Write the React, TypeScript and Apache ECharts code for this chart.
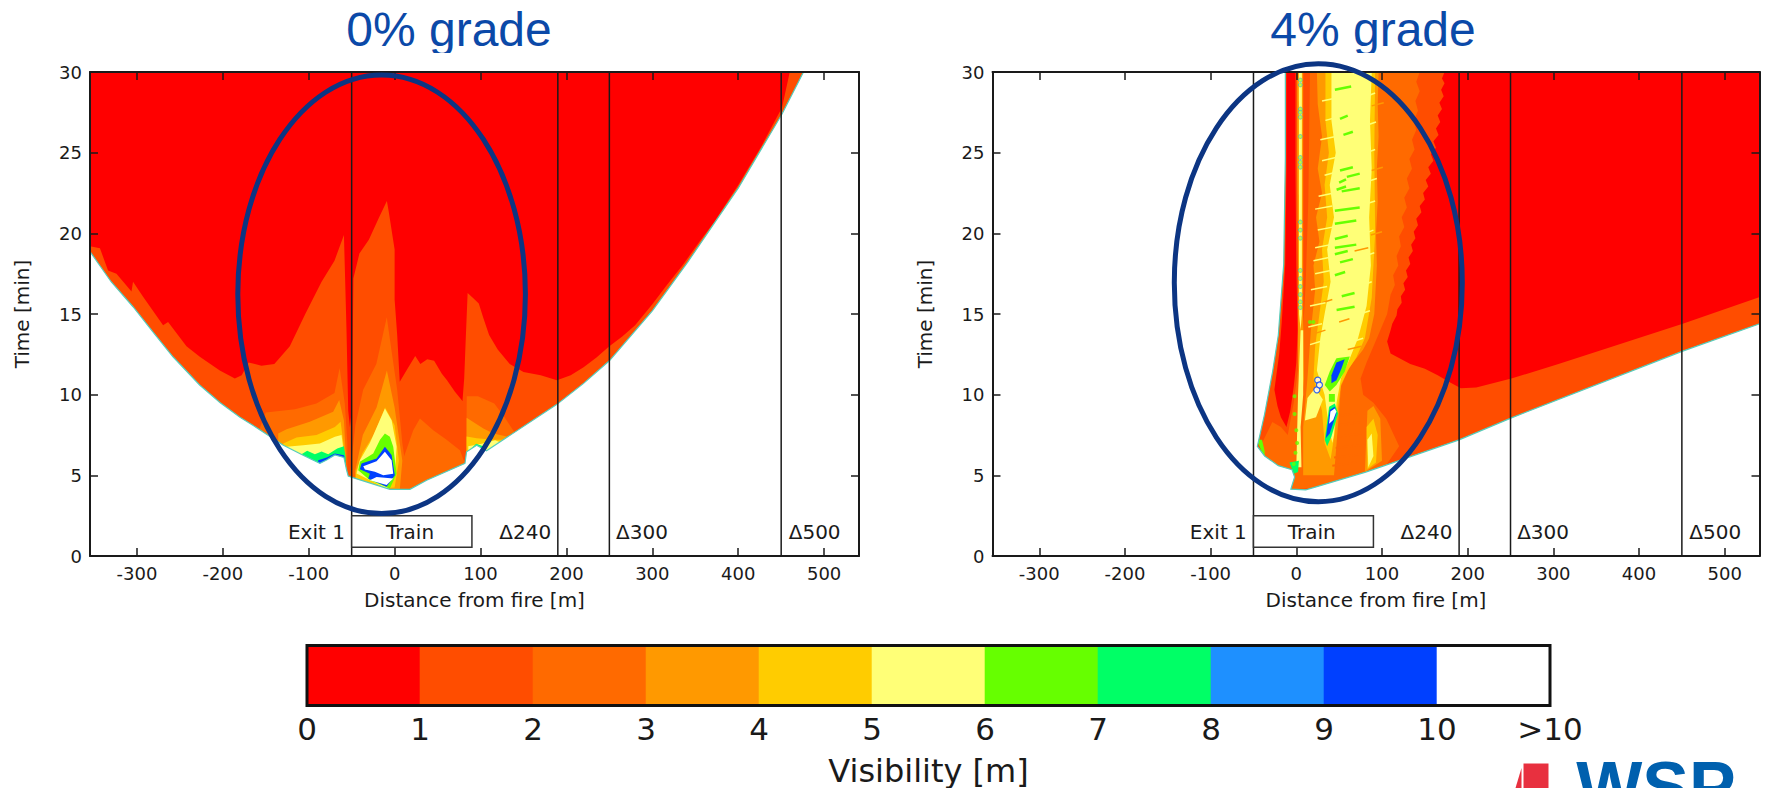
import React, { useEffect, useRef } from "react";
import * as echarts from "echarts";

// ---------- shared scales and labels ----------
const xTicks = [-300, -200, -100, 0, 100, 200, 300, 400, 500];
const xRange = [-354.6, 540.6];
const levelColors = ["#ff0000", "#ff4d00", "#ff6a00", "#ff9900", "#ffcc00", "#ffff77", "#66ff00", "#00ff66", "#1e90ff", "#0040ff", "#ffffff"];
const colorBarLabels = ["0", "1", "2", "3", "4", "5", "6", "7", "8", "9", "10", ">10"];
const markerLines = [-50, 190, 250, 450];
const trainBox = [-50, 90, 0.55, 2.5];
const markerLabels: [string, number][] = [["Exit 1", -91], ["Train", 18], ["Δ240", 152], ["Δ300", 288], ["Δ500", 489]];
const fullPlot = [[-355, 0], [541, 0], [541, 30], [-355, 30]];

// ---------- 0% grade: contour outlines [distance m, time min] ----------
const leftL1 = [[-355, 19.2], [-343, 19.07], [-333.6, 17.7], [-323.8, 17.5], [-306.3, 16.4], [-304.5, 17], [-292.8, 16.07], [-269.5, 14.3], [-263.7, 14.5], [-242.3, 13], [-226.8, 12.35], [-203.5, 11.5], [-186, 11], [-178, 11.2], [-170, 12], [-155, 11.8], [-140, 11.9], [-122, 13], [-104, 15], [-85, 17], [-70, 18.3], [-59, 19.9], [-56, 14], [-54, 9], [-52, 8], [-50, 9], [-49, 12], [-48, 17.2], [-41, 18.75], [-30, 19.6], [-18, 21], [-9, 22], [-7, 21.4], [0, 19], [0, 15.9], [3, 13.7], [6, 10.8], [15, 11.6], [24, 12.4], [30, 11.9], [38, 12.2], [46, 12.1], [55, 11.3], [61, 10.9], [70, 10.2], [79, 9.6], [81, 11], [83, 13.7], [85, 16.3], [91, 16], [98, 15.65], [103, 14.8], [110, 13.7], [120, 12.8], [134, 11.9], [150, 11.4], [170, 11.2], [189, 10.9], [205, 11.2], [220, 11.7], [235, 12.3], [250, 13], [265, 13.6], [280, 14.3], [300, 15.6], [317, 16.8], [335, 18], [355, 19.5], [372, 20.7], [400, 23], [427, 25.4], [451, 27.8], [460, 30], [541, 30], [541, 0], [-355, 0]];
const leftWingL2 = [[-160, 7.5], [-150, 8.9], [-116, 9.1], [-91, 9.45], [-70, 10.1], [-64, 11.65], [-58, 9.45], [-55, 7], [-55, 5], [-160, 5]];
const leftWingL3 = [[-135.5, 7.6], [-125.8, 7.85], [-98.7, 8.32], [-71.5, 8.94], [-64.5, 9.67], [-59, 8.4], [-56.7, 6.15], [-56.7, 5], [-135.5, 5]];
const leftWingL4 = [[-129.7, 6.98], [-114.2, 7.35], [-90.9, 7.5], [-69.5, 8], [-62.9, 8.32], [-59, 6.77], [-59, 5], [-129.7, 5]];
const leftWingL5 = [[-125.8, 6.77], [-106.4, 6.87], [-87, 6.98], [-69.5, 7.39], [-61.8, 7.5], [-58.7, 6.25], [-58.7, 5], [-125.8, 5]];
const leftWingGreen = [[-108.4, 6.3], [-101.8, 6.52], [-92.8, 6.3], [-85, 6.48], [-77.3, 6.3], [-66.8, 6.67], [-59, 6.81], [-57, 6.1], [-57, 5], [-108.4, 5]];
const leftWingBlue = [[-89, 5.94], [-79, 6.1], [-69.5, 6.36], [-59, 6.25], [-57.5, 5.94], [-57.5, 5], [-89, 5]];
const centerL2 = [[-9.1, 14.8], [-21.3, 11.9], [-36.6, 10.3], [-45.7, 8.1], [-52, 5], [-52, 4], [17, 4], [9, 7], [3, 10.3], [-3, 12.5]];
const centerL3 = [[-9, 11.5], [-21, 9.2], [-37, 7.5], [-46, 5.25], [-46, 4], [6, 4.1], [9, 5.9], [0, 9.2]];
const centerL4 = [[-11, 9.2], [-24.4, 7.5], [-37.7, 6.35], [-45, 5.25], [-45, 4], [0, 4.25], [5, 5.9], [0, 8.1]];
const centerL5 = [[-11.3, 9.15], [-19, 8.2], [-28.8, 7], [-40.4, 5.94], [-44.3, 5.12], [-9.3, 4.19], [0.3, 4.9], [2.3, 6.77], [-3.5, 8.42]];
const centerGreen = [[-11.3, 7.6], [-17, 7.2], [-24.9, 6.36], [-40.4, 5.84], [-42.4, 5.32], [-28.8, 4.7], [-5.5, 4.19], [2.3, 5.1], [-1.6, 6.77], [-5.5, 7.39]];
const centerBlue = [[-11.3, 6.77], [-21, 6.05], [-38.5, 5.74], [-40.4, 5.37], [-28.8, 5.1], [-30.7, 4.8], [-9.3, 4.29], [0.3, 5], [-3.5, 6.26]];
const centerWhiteA = [[-11.3, 6.46], [-21, 5.88], [-36.5, 5.57], [-34.6, 5.36], [-23, 5.22], [-13.2, 5], [-1.6, 5.1], [-3.5, 5.94]];
const centerWhiteB = [[-28.8, 4.7], [-9.3, 4.4], [-1.6, 4.8], [-21, 4.9]];
const centerRightL2 = [[29.5, 8.53], [21.7, 7.8], [8.1, 5.74], [6.2, 4], [82, 4], [81.9, 5.74], [76, 6.56], [60.5, 7.2], [45, 7.8]];
const rightWingL2 = [[83, 4], [84, 9.9], [97, 9.9], [116, 9.45], [128, 8.6], [138, 7.8], [150, 7]];
const rightWingL3 = [[83.8, 4], [83.8, 8.57], [103.3, 7.9], [115, 7.6], [130.4, 7.4], [140, 6]];
const rightWingL4 = [[83.8, 4], [83.8, 7.4], [95.5, 7.3], [115, 7.2], [126.6, 7.2], [130, 5]];
const rightWingL5 = [[85.8, 4], [85.8, 6.8], [101.3, 6.95], [117, 7.18], [125, 7], [125, 5]];
const rightWingGreen = [[85, 5], [85.8, 6.5], [95, 6.95], [103, 6.8], [108, 6.3], [100, 5]];
const leftMask = [[-355, 30], [-355, 18.9], [-330, 17], [-304.5, 15.45], [-280, 13.8], [-258, 12.35], [-227, 10.6], [-203, 9.5], [-180, 8.6], [-165, 8.1], [-130, 6.88], [-106.5, 6.25], [-87, 5.74], [-79.2, 5.95], [-69.5, 6.26], [-59, 6.11], [-55.9, 5.33], [-54, 4.95], [-49.4, 4.87], [-5.5, 4.13], [17.8, 4.13], [37.3, 4.7], [81.9, 5.74], [83.8, 6.46], [95.5, 6.87], [107, 6.52], [189, 9.4], [220, 10.7], [250, 12.1], [300, 15.2], [341, 18.2], [400, 22.8], [451, 27.4], [476, 30], [541, 30], [541, 0], [-355, 0]];

const leftRegions: [number[][], number][] = [
  [fullPlot, 0], [leftL1, 1],
  [leftWingL2, 2], [leftWingL3, 3], [leftWingL4, 4], [leftWingL5, 5], [leftWingGreen, 7], [leftWingBlue, 9],
  [centerL2, 2], [centerRightL2, 2], [centerL3, 3], [centerL4, 4], [centerL5, 5], [centerGreen, 6], [centerBlue, 9], [centerWhiteA, 10], [centerWhiteB, 10],
  [rightWingL2, 2], [rightWingL3, 3], [rightWingL4, 4], [rightWingL5, 5], [rightWingGreen, 7],
];

// ---------- 4% grade: contour outlines ----------
const rightL1 = [[-14, 30], [173, 30], [170, 29.6], [173, 29.3], [169, 28.9], [172, 28.5], [167, 28.1], [170, 27.7], [165, 27.3], [168, 26.9], [163, 26.5], [166, 26.1], [160, 25.7], [163, 25.3], [157, 24.9], [160, 24.5], [154, 24.1], [157, 23.7], [151, 23.3], [154, 22.9], [148, 22.5], [150, 22.1], [144, 21.7], [146, 21.3], [140, 20.9], [142, 20.5], [137, 20.1], [139, 19.7], [134, 19.3], [136, 18.9], [131, 18.5], [133, 18.1], [128, 17.7], [130, 17.3], [125, 16.9], [127, 16.5], [122, 16.1], [123, 15.7], [118, 15.3], [117, 14.9], [112, 14.4], [110, 14], [106, 13.3], [110, 12.55], [133, 11.9], [150, 11.6], [165, 11.2], [178, 10.8], [192, 10.4], [210, 10.45], [251, 11], [306, 11.9], [370, 13], [451, 14.4], [541, 16.05], [541, 0], [-50, 0], [-50, 7], [-30, 12], [-16, 18]];
const rightL2 = [[16, 30], [144, 30], [140, 29.4], [144, 28.8], [139, 28.2], [142, 27.6], [137, 27], [140, 26.4], [135, 25.8], [138, 25.2], [132, 24.6], [135, 24], [129, 23.4], [132, 22.8], [126, 22.2], [129, 21.6], [123, 21], [126, 20.4], [120, 19.8], [122, 19.2], [117, 18.6], [119, 18], [113, 17.4], [115, 16.8], [110, 16.2], [106, 15], [98, 14], [82, 12], [75, 11], [78, 10], [90, 9.5], [105, 8.5], [120, 6.8], [90, 4.5], [-40, 4], [-40, 7], [-28, 8.3], [-18, 8], [-10, 7.5], [-3, 9.5], [3, 12], [8, 14], [11, 17], [14, 22]];
const rightL3 = [[24, 30], [96, 30], [95, 28], [96, 26], [94, 24], [95, 22], [93, 20], [94, 18], [91, 15], [85, 13.5], [78, 12.8], [62, 11.7], [52, 10.5], [50, 9], [47, 7], [44, 5], [8, 5], [8, 8], [13, 11], [17, 14], [22, 16.5], [20, 18], [27, 19.5], [23, 21], [30, 22.5], [25, 24], [30, 26], [25, 28]];
const rightL4 = [[34, 30], [92, 30], [91, 25], [92, 20], [88, 16], [80, 13.5], [70, 12.3], [60, 11.5], [52, 10.6], [47, 8.5], [43, 7], [40, 6], [33, 7], [30, 9], [20, 11], [22, 13], [27, 15], [32, 17], [30, 19], [36, 21], [33, 23], [38, 25], [34, 27]];
const rightL5 = [[41, 30], [88, 30], [86, 27], [88, 24], [85, 21], [87, 18], [82, 15.5], [72, 13.5], [62, 12.2], [52, 11], [47, 9.5], [44, 7.5], [42, 7], [38, 8], [33, 10], [24, 11.5], [28, 13.5], [33, 15], [40, 17], [36, 19], [44, 21], [39, 23], [46, 25], [41, 27]];
const lowerStripeL3 = [[80, 5.2], [83, 9], [90, 9.3], [98, 8.5], [100, 5.9]];
const lowerStripeL4 = [[83, 5.4], [82, 8], [90, 8.5], [95, 7.5], [93, 5.8]];
const lowerStripeL5 = [[84, 5.5], [83, 7.2], [88, 7.6], [90, 6.2]];
const redStripe = [[-11.5, 30], [-11.5, 24], [-12.5, 20], [-13, 18], [-17, 14.5], [-20, 12.5], [-25.6, 10.3], [-22, 9.3], [-18, 8.6], [-11.5, 8], [-7, 9], [-3, 10.5], [0, 12], [1.5, 14], [0, 18], [-1, 24], [-1, 30]];
const beadStripeL3 = [[1, 30], [8, 30], [8, 15], [9, 11], [5, 9], [2, 12], [2, 18], [1, 24]];
const beadStripeL5 = [[3, 30], [6.5, 30], [6.5, 15], [5, 14], [3.2, 15]];
const lowerColumnL5 = [[0, 5.5], [6, 5.5], [5, 8], [8, 10], [8, 14], [5, 14], [2, 10]];
const sideColumnL5 = [[10, 8.4], [23, 8.6], [31, 9.7], [22, 10.4], [13, 9.8]];
const blobAGreen = [[62.4, 12.36], [46.8, 12.25], [39, 11.43], [33.2, 10.6], [39, 10.2], [46.8, 10.6], [56.5, 11.43]];
const blobABlue = [[56.5, 12.2], [46.8, 12], [41, 11.2], [41, 10.7], [46.8, 10.9], [52.6, 11.6]];
const blobBGreen = [[44.9, 9.46], [38.3, 9.25], [33.2, 7.2], [36, 6.8], [41, 7.4], [48.8, 8.84]];
const blobBBlue = [[44.9, 9.25], [39, 9.05], [34.4, 7.3], [39, 7.6], [46.8, 8.84]];
const blobBWhite = [[44.9, 9.15], [39.8, 8.95], [38.3, 8.2], [43, 8.43], [46.8, 8.95]];
const blobCGreen = [[38, 10.04], [45, 10.04], [45, 9.56], [38, 9.56]];
const baseGreen = [[-8, 5.8], [3, 5.9], [2, 5.2], [-3, 5.1]];
const edgeGreen = [[-46, 7.2], [-40, 7.2], [-37, 6.5], [-37, 6]];
const rightMask = [[-355, 30], [-12.8, 30], [-12.8, 24.7], [-14.7, 18.1], [-21, 13.7], [-27.6, 11.45], [-37, 8.8], [-45.5, 6.8], [-37, 6.2], [-21, 5.6], [-5, 5.35], [-2, 4.9], [-6.4, 4.14], [11, 4.1], [24, 4.3], [81, 5.2], [190, 7.2], [251, 8.56], [451, 12.7], [541, 14.4], [541, 0], [-355, 0]];

const rightRegions: [number[][], number][] = [
  [fullPlot, 0], [rightL1, 1], [rightL2, 2], [rightL3, 3], [rightL4, 4], [rightL5, 5],
  [lowerStripeL3, 3], [lowerStripeL4, 4], [lowerStripeL5, 5],
  [redStripe, 0], [beadStripeL3, 3], [beadStripeL5, 5], [lowerColumnL5, 5], [sideColumnL5, 5],
  [blobAGreen, 6], [blobABlue, 9], [blobCGreen, 6], [blobBGreen, 7], [blobBBlue, 9], [blobBWhite, 10], [baseGreen, 7], [edgeGreen, 6],
];

// short streaks in the 4% plume: [from m, to m, time min]
const yellowStreaks = [[30, 48, 28.3], [34, 48, 27.1], [28, 46, 25.9], [30, 46, 24.6], [33, 47, 23.7], [26, 44, 22.4], [22, 42, 21.6], [25, 44, 20.3], [22, 40, 19.2], [20, 38, 18.4], [22, 40, 17.6], [17, 36, 16.6], [16, 34, 15.6], [14, 30, 14.3], [16, 28, 13.2], [82, 92, 28.6], [82, 93, 26.8], [82, 92, 25.1], [82, 94, 23.3], [80, 92, 21.9], [80, 90, 20.1], [80, 91, 18.7], [78, 88, 16.9], [74, 86, 15.1], [66, 78, 13.4]];
const orangeStreaks = [[68, 84, 19], [50, 62, 14.6], [60, 76, 12.9], [30, 42, 15.8], [22, 34, 13.9], [88, 102, 28], [88, 101, 24], [87, 100, 20]];
const lowerStreaks = [[52, 72, 8.8], [50, 74, 8.2], [48, 76, 7.5], [46, 78, 6.8], [44, 76, 6.2], [42, 70, 5.7]];
const greenStreaks = [[45, 64, 29], [51, 60, 27.2], [55, 66, 26.2], [51, 66, 24], [59, 74, 23.6], [50, 58, 23.25], [47, 58, 22.8], [53, 74, 22.7], [45, 74, 21.5], [45, 70, 20.7], [45, 60, 19.75], [45, 70, 19.2], [45, 60, 18.8], [51, 66, 18.3], [45, 57, 17.5], [53, 68, 16.2], [47, 68, 15.35]];
const beadTimes = [29.5, 29.2, 27.7, 27.5, 27.2, 26, 24.7, 24.4, 24.1, 20.7, 20.2, 19.7, 17.7, 17.2, 16.7, 16.2, 15.75, 15.4];
const lowerBeads = [[-2, 9.9], [-2, 8.8], [0, 7.8], [1, 7], [-1, 6.4], [-3, 5.7], [16, 14.5], [20, 14.5]];
const ringBeads = [[25, 10.9], [24, 10.3], [27, 10.6]];

const ink = "#1a1a1a";
const labelFont = "DejaVu Sans";

function region(points: number[][], level: number, a: number, extra: any = {}) {
  return {
    type: "custom", xAxisIndex: a, yAxisIndex: a, silent: true, clip: true, z: 2,
    data: points, encode: { x: 0, y: 1 },
    renderItem: (params: any, api: any) => params.dataIndex !== 0 ? null : {
      type: "polygon",
      shape: { points: points.map((p) => api.coord(p)) },
      style: { fill: levelColors[level], ...extra },
    },
  };
}
function streaks(list: number[][], color: string, width: number) {
  return {
    type: "custom", xAxisIndex: 2, yAxisIndex: 2, silent: true, clip: true, z: 2,
    data: list, encode: { x: 0, y: 2 },
    renderItem: (_: any, api: any) => {
      const a = api.coord([api.value(0), api.value(2) - 0.1]);
      const b = api.coord([api.value(1), api.value(2) + 0.1]);
      return { type: "line", shape: { x1: a[0], y1: a[1], x2: b[0], y2: b[1] }, style: { stroke: color, lineWidth: width } };
    },
  };
}
function furniture(a: number) {
  return [
    {
      type: "custom", xAxisIndex: a, yAxisIndex: a, silent: true, z: 4,
      data: markerLines.map((x) => [x, 0]), encode: { x: 0, y: 1 },
      renderItem: (_: any, api: any) => {
        const p = api.coord([api.value(0), 0]), q = api.coord([api.value(0), 30]);
        return { type: "line", shape: { x1: p[0], y1: p[1], x2: q[0], y2: q[1] }, style: { stroke: ink, lineWidth: 1.5 } };
      },
    },
    {
      type: "custom", xAxisIndex: a, yAxisIndex: a, silent: true, z: 5,
      data: [trainBox], encode: { x: 0, y: 2 },
      renderItem: (_: any, api: any) => {
        const p = api.coord([trainBox[0], trainBox[3]]), q = api.coord([trainBox[1], trainBox[2]]);
        return { type: "rect", shape: { x: p[0], y: p[1], width: q[0] - p[0], height: q[1] - p[1] }, style: { fill: "#ffffff", stroke: "#333333", lineWidth: 1.5 } };
      },
    },
    {
      type: "custom", xAxisIndex: a, yAxisIndex: a, silent: true, z: 6,
      data: markerLabels.map((m) => [m[1], 1.48, m[0]]), encode: { x: 0, y: 1 },
      renderItem: (params: any, api: any) => {
        const p = api.coord([api.value(0), api.value(1)]);
        return { type: "text", style: { x: p[0], y: p[1], text: markerLabels[params.dataIndex][0], fill: ink, font: `20px "${labelFont}"`, textAlign: "center", textVerticalAlign: "middle" } };
      },
    },
  ];
}
function axesFor(base: number) {
  const tick = { show: true, inside: true, length: 8, lineStyle: { color: ink, width: 1.5 } };
  const line = { show: true, onZero: false, lineStyle: { color: ink, width: 2 } };
  const x = (pos: string, labelled: boolean) => ({
    type: "value", gridIndex: base, position: pos, min: xRange[0], max: xRange[1], z: 20,
    axisLine: line, splitLine: { show: false },
    axisTick: { ...tick, customValues: xTicks },
    axisLabel: labelled ? { show: true, customValues: xTicks, color: ink, fontFamily: labelFont, fontSize: 18, margin: 8 } : { show: false },
    ...(labelled ? { name: "Distance from fire [m]", nameLocation: "middle", nameGap: 34, nameTextStyle: { color: ink, fontFamily: labelFont, fontSize: 20 } } : {}),
  });
  const y = (pos: string, labelled: boolean) => ({
    type: "value", gridIndex: base, position: pos, min: 0, max: 30, interval: 5, z: 20,
    axisLine: line, splitLine: { show: false }, axisTick: tick,
    axisLabel: labelled ? { show: true, color: ink, fontFamily: labelFont, fontSize: 18, margin: 8 } : { show: false },
    ...(labelled ? { name: "Time [min]", nameLocation: "middle", nameGap: 58, nameTextStyle: { color: ink, fontFamily: labelFont, fontSize: 20 } } : {}),
  });
  return { x: [x("bottom", true), x("top", false)], y: [y("left", true), y("right", false)] };
}

export default function App() {
  const ref = useRef<HTMLDivElement>(null);
  useEffect(() => {
    document.body.style.margin = "0";
    document.body.style.overflow = "hidden";
    const chart = echarts.init(ref.current!, null, { renderer: "svg" });
    const A = axesFor(0), B = axesFor(1);
    const titleStyle = { color: "#0b49a8", fontFamily: "Liberation Sans", fontSize: 48, fontWeight: "normal" as const };
    chart.setOption({
      animation: false,
      backgroundColor: "#ffffff",
      title: [
        { text: "0% grade", left: 449, top: 5, textAlign: "center", textStyle: titleStyle, padding: 0 },
        { text: "4% grade", left: 1373, top: 5, textAlign: "center", textStyle: titleStyle, padding: 0 },
      ],
      grid: [
        { left: 90, top: 72, width: 769, height: 484 },
        { left: 992.5, top: 72, width: 767, height: 484 },
        { left: 307, top: 645.5, width: 1243, height: 60 },
      ],
      xAxis: [
        A.x[0], A.x[1],
        B.x[0], B.x[1],
        {
          type: "value", gridIndex: 2, min: 0, max: 11, interval: 1, position: "bottom", z: 20,
          axisLine: { show: false }, axisTick: { show: false }, splitLine: { show: false },
          axisLabel: { show: true, color: ink, fontFamily: labelFont, fontSize: 31, margin: 8, formatter: (v: number) => colorBarLabels[v] },
          name: "Visibility [m]", nameLocation: "middle", nameGap: 49, nameTextStyle: { color: ink, fontFamily: labelFont, fontSize: 32 },
        },
      ],
      yAxis: [
        A.y[0], A.y[1],
        B.y[0], B.y[1],
        { type: "value", gridIndex: 2, min: 0, max: 1, show: false },
      ],
      series: [
        ...leftRegions.map(([p, l]) => region(p, l, 0)),
        region(leftMask, 10, 0, { stroke: "#55ccbb", lineWidth: 1.2 }),
        ...furniture(0),
        ...rightRegions.map(([p, l]) => region(p, l, 2)),
        streaks(lowerStreaks, levelColors[2], 2),
        streaks(orangeStreaks, levelColors[3], 1.5),
        streaks(yellowStreaks, levelColors[5], 1.5),
        streaks(greenStreaks, levelColors[6], 2.5),
        {
          type: "scatter", xAxisIndex: 2, yAxisIndex: 2, silent: true, z: 2, symbolSize: 4,
          data: beadTimes.map((t) => [4.7, t]),
          itemStyle: { color: "#aaff33", borderColor: levelColors[8], borderWidth: 0.6 },
        },
        {
          type: "scatter", xAxisIndex: 2, yAxisIndex: 2, silent: true, z: 2, symbolSize: 4,
          data: lowerBeads, itemStyle: { color: levelColors[6] },
        },
        {
          type: "scatter", xAxisIndex: 2, yAxisIndex: 2, silent: true, z: 2, symbolSize: 6,
          data: ringBeads, itemStyle: { color: "#ffffff", borderColor: levelColors[9], borderWidth: 1.2 },
        },
        region(rightMask, 10, 2, { stroke: "#55ccbb", lineWidth: 1.2 }),
        ...furniture(2),
        // colour bar
        {
          type: "custom", xAxisIndex: 4, yAxisIndex: 4, silent: true, z: 2,
          data: levelColors.map((_, i) => [i, i + 1]), encode: { x: [0, 1] },
          renderItem: (params: any, api: any) => {
            const a = api.coord([api.value(0), 1]), b = api.coord([api.value(1), 0]);
            const c = levelColors[params.dataIndex];
            return { type: "rect", shape: { x: a[0], y: a[1], width: b[0] - a[0], height: b[1] - a[1] }, style: { fill: c, stroke: c, lineWidth: 0.6 } };
          },
        },
        {
          type: "custom", xAxisIndex: 4, yAxisIndex: 4, silent: true, z: 3,
          data: [[0, 11]], encode: { x: [0, 1] },
          renderItem: (_: any, api: any) => {
            const a = api.coord([api.value(0), 1]), b = api.coord([api.value(1), 0]);
            return { type: "rect", shape: { x: a[0], y: a[1], width: b[0] - a[0], height: b[1] - a[1] }, style: { fill: "none", stroke: "#111111", lineWidth: 3 } };
          },
        },
      ],
      graphic: [
        // the title band is cropped just below the baseline, as in the source slide
        { type: "rect", z: 50, shape: { x: 330, y: 53, width: 240, height: 17 }, style: { fill: "#ffffff" } },
        { type: "rect", z: 50, shape: { x: 1255, y: 53, width: 240, height: 8 }, style: { fill: "#ffffff" } },
        { type: "ellipse", z: 60, shape: { cx: 381.6, cy: 294.3, rx: 143.8, ry: 219.3 }, style: { fill: "none", stroke: "#0c3583", lineWidth: 5 } },
        { type: "ellipse", z: 60, shape: { cx: 1318.3, cy: 282.7, rx: 144, ry: 219 }, style: { fill: "none", stroke: "#0c3583", lineWidth: 5 } },
        { type: "polygon", z: 60, shape: { points: [[1515.5, 788], [1521.5, 768], [1521.5, 788]] }, style: { fill: "#e8303f" } },
        { type: "rect", z: 60, shape: { x: 1523.5, y: 763.5, width: 25, height: 25 }, style: { fill: "#e8303f" } },
        { type: "text", z: 60, x: 1656, y: 822, style: { text: "WSP", fill: "#0060ae", font: 'bold 70px "Liberation Sans"', textAlign: "center", textVerticalAlign: "bottom" } },
      ],
    });
    return () => chart.dispose();
  }, []);
  return <div ref={ref} style={{ width: 1769, height: 788 }} />;
}
